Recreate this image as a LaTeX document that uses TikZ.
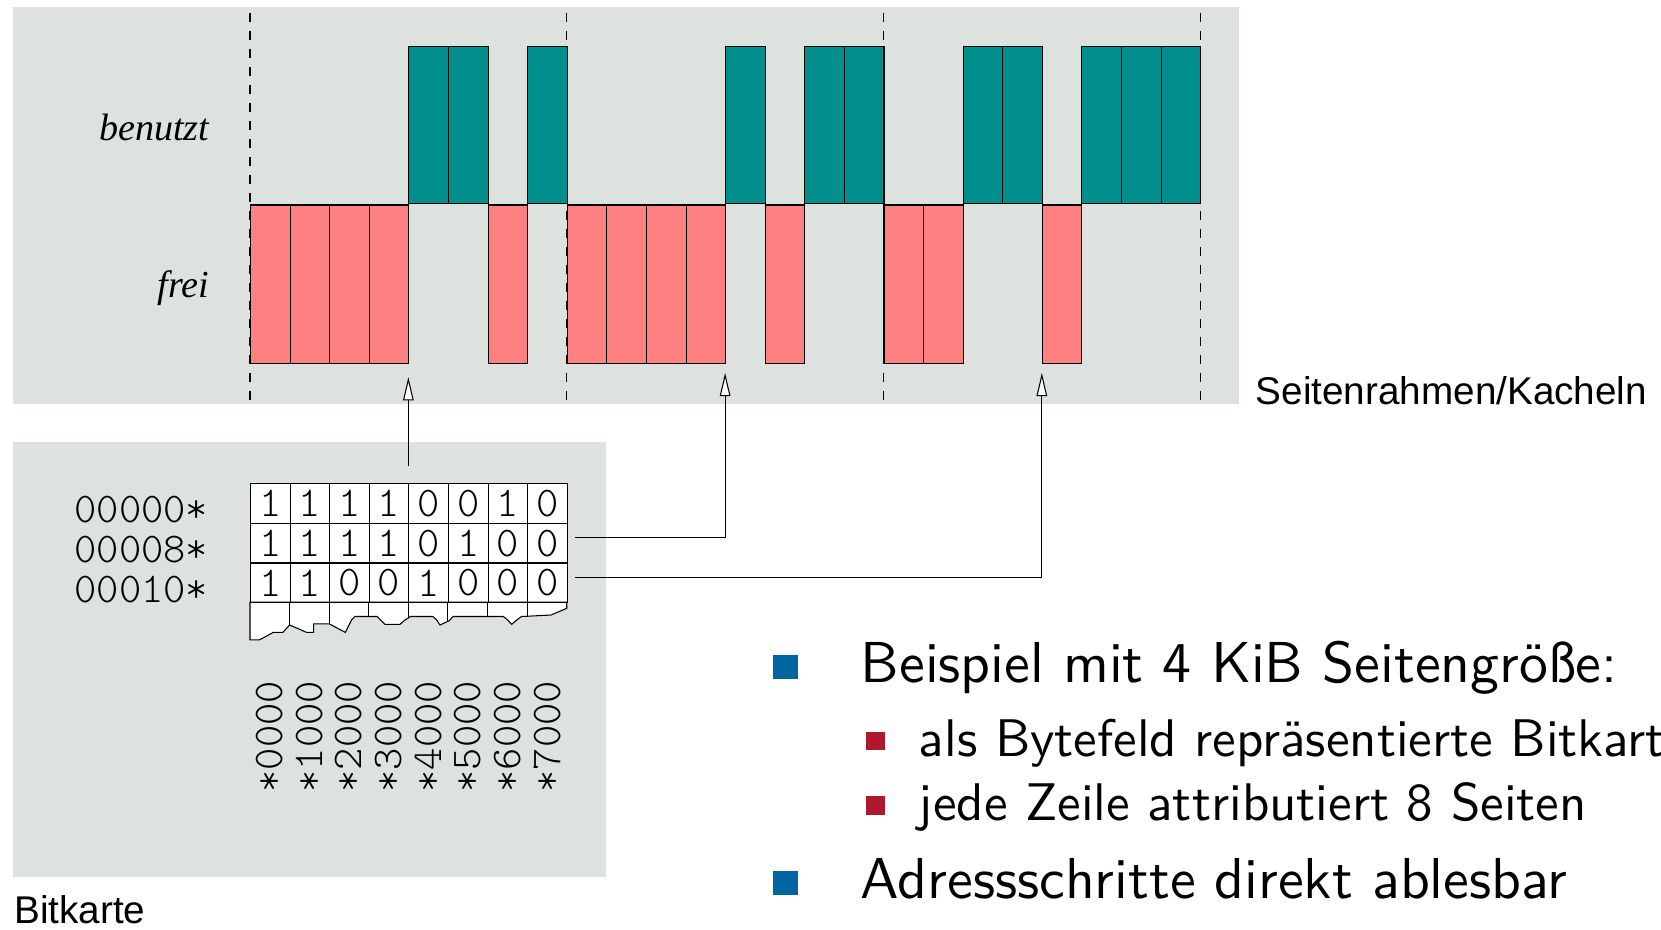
\documentclass[tikz,border=0pt]{standalone}
\usepackage{fontspec}
\newfontfamily\timesfont{Liberation Serif}
\newfontfamily\helvfont{Liberation Sans}
\usetikzlibrary{arrows.meta}
\definecolor{panel}{RGB}{222,226,223}
\definecolor{usedc}{RGB}{0,143,140}
\definecolor{freec}{RGB}{255,128,128}
\definecolor{bulblue}{RGB}{0,102,161}
\definecolor{bulred}{RGB}{175,25,45}
\newcommand{\monolight}{\fontseries{l}\ttfamily\fontsize{40}{44}\selectfont}
\begin{document}
\begin{tikzpicture}[x=1pt,y=-1pt,line width=1pt,
  panelbox/.style={fill=panel,draw=none},
  usedbox/.style={draw=black,line width=1pt,fill=usedc,minimum width=37.375pt,minimum height=149pt,inner sep=0pt,anchor=south west},
  freebox/.style={draw=black,line width=1pt,fill=freec,minimum width=37.375pt,minimum height=150pt,inner sep=0pt,anchor=north west},
  divider/.style={draw=black,line width=1pt,dash pattern=on 9pt off 8pt},
  cell/.style={draw=black,line width=1pt,fill=white,minimum width=37.375pt,minimum height=37.5pt,inner sep=0pt,anchor=north west,font=\monolight},
  rowlabel/.style={anchor=base east,inner sep=0pt,font=\monolight},
  collabel/.style={rotate=90,inner sep=0pt,font=\monolight},
  statelabel/.style={anchor=base east,inner sep=0pt,font=\timesfont\itshape\fontsize{36}{40}\selectfont},
  caption/.style={anchor=base west,inner sep=0pt,font=\helvfont\fontsize{36.5}{40}\selectfont},
  link/.style={draw=black,line width=1pt,-{Triangle[length=22pt,width=10pt,fill=white]}},
  mainbullet/.style={fill=bulblue,minimum size=23pt,inner sep=0pt},
  subbullet/.style={fill=bulred,minimum size=17.5pt,inner sep=0pt},
  maintext/.style={anchor=base west,inner sep=0pt,font=\sffamily\fontsize{10}{12}\selectfont,scale=5.45},
  subtext/.style={anchor=base west,inner sep=0pt,font=\sffamily\fontsize{10}{12}\selectfont,scale=5.0}]
\useasboundingbox (0,0) rectangle (1568,877);
% panels
\path[panelbox] (12,7) rectangle (1170,381);
\path[panelbox] (12,417) rectangle (572,828);
% dividers
\foreach \x in {236,535,834,1133} \draw[divider] (\x,12) -- (\x,381);
% page frames
\foreach \b [count=\i from 0] in {1,1,1,1,0,0,1,0,1,1,1,1,0,1,0,0,1,1,0,0,1,0,0,0}{
  \pgfmathsetmacro\xo{236+\i*37.375}
  \ifnum\b=1
    \node[freebox] (m\i) at (\xo,193) {};
  \else
    \node[usedbox] (m\i) at (\xo,193) {};
  \fi
}
\node[statelabel] (lused) at (198,133) {benutzt};
\node[statelabel] (lfree) at (198,281) {frei};
\node[caption] (capframes) at (1185,382) {Seitenrahmen/Kacheln};
\node[caption] (capmap) at (13,872) {Bitkarte};
% bitmap grid
\foreach \row [count=\r from 0] in {{1,1,1,1,0,0,1,0},{1,1,1,1,0,1,0,0},{1,1,0,0,1,0,0,0}}{
  \foreach \b [count=\c from 0] in \row {
    \pgfmathsetmacro\cx{236+\c*37.375}
    \pgfmathsetmacro\cy{456+\r*37.5}
    \node[cell] (g\r\c) at (\cx,\cy) {\b};
  }
}
% torn row
\def\tornpath{(236,568.5) -- (236,604) -- (245,604) -- (258,597) -- (267,597) -- (273.4,590) -- (289.5,597) -- (296,597) -- (296,589) -- (311,589) -- (326,597) -- (332,585) -- (335,582) -- (356,582) -- (359,585) -- (363.5,589.4) -- (377.6,589.4) -- (382.3,585.3) -- (387.6,582) -- (408.5,582) -- (412,585) -- (415.4,590) -- (424,586) -- (427.7,582) -- (475,582) -- (479,585) -- (483,589.4) -- (487.8,585.3) -- (492.3,582) -- (520,580.6) -- (535,574.3) -- (535,568.5) -- cycle}
\filldraw[fill=white,draw=black,line width=1pt] \tornpath;
\begin{scope}
  \clip \tornpath;
  \foreach \c in {1,...,7} \draw[line width=1pt] ({236+\c*37.375},568) -- ({236+\c*37.375},610);
\end{scope}
% row labels
\node[rowlabel] (r0) at (197,493.5) {00000*};
\node[rowlabel] (r1) at (197,531) {00008*};
\node[rowlabel] (r2) at (197,568.5) {00010*};
% column labels
\foreach \t [count=\c from 0] in {*0000,*1000,*2000,*3000,*4000,*5000,*6000,*7000}{
  \node[collabel] (cl\c) at ({254.7+\c*37.375},695.5) {\t};
}
% connectors
\coordinate (s1) at (385.5,440);
\coordinate (t1) at (385.5,356);
\coordinate (s2) at (543,507);
\coordinate (t2) at (684.5,352);
\coordinate (s3) at (543,545);
\coordinate (t3) at (983.5,352);
\draw[link] (s1) -- (t1);
\draw[link] (s2) -| (t2);
\draw[link] (s3) -| (t3);
% bullet list
\node[mainbullet] (b1) at (741.5,629.5) {};
\node[maintext] (txt1) at (810,644) {Beispiel mit 4 KiB Seitengröße:};
\node[subbullet] (b2) at (826.5,699.5) {};
\node[subtext] (txt2) at (865,714) {als Bytefeld repräsentierte Bitkarte};
\node[subbullet] (b3) at (826.5,760.5) {};
\node[subtext] (txt3) at (865,775) {jede Zeile attributiert 8 Seiten};
\node[mainbullet] (b4) at (741.5,833.5) {};
\node[maintext] (txt4) at (810,848) {Adressschritte direkt ablesbar};
\end{tikzpicture}
\end{document}
